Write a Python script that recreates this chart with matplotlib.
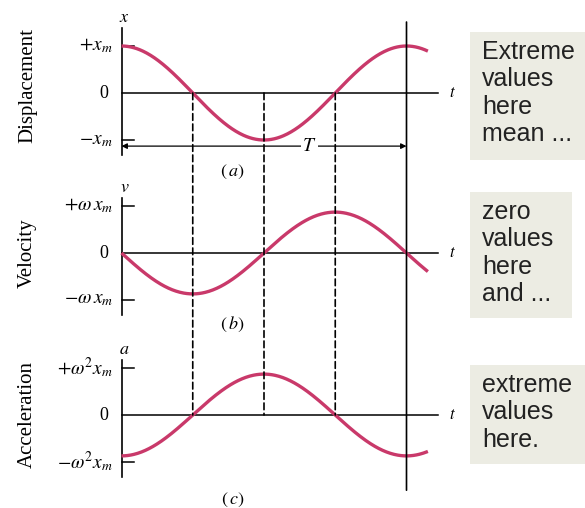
import numpy as np
import matplotlib.pyplot as plt
from matplotlib.patches import ConnectionPatch, Rectangle

plt.rcParams['mathtext.fontset'] = 'stix'
plt.rcParams['font.family'] = ['Liberation Serif', 'DejaVu Serif']

# one period T = 1; curves drawn a little past t = T
period = 1.0
t_end = 1.075
guide_times = [0.25, 0.5, 0.75]

panel_names = ['Displacement', 'Velocity', 'Acceleration']
axis_letters = ['$x$', '$v$', '$a$']
tick_top = [r'$+x_m$', r'$+\omega\, x_m$', r'$+\omega^2 x_m$']
tick_bottom = [r'$-x_m$', r'$-\omega\, x_m$', r'$-\omega^2 x_m$']
sub_labels = [r'$(\,a)$', r'$(\,b)$', r'$(\,c)$']
amplitudes = [1.0, 0.87, 0.87]
phases = [0.0, 0.25, 0.5]   # fraction of a period: cos, -sin, -cos

notes = ['Extreme\nvalues\nhere\nmean ...',
         'zero\nvalues\nhere\nand ...',
         'extreme\nvalues\nhere.']

W, H = 585, 508
fig = plt.figure(figsize=(W / 100, H / 100), dpi=100)
fig.patch.set_facecolor('white')

x0_px, T_px = 121.5, 285.0
unit_px = 47.0
zero_px = [93, 253, 415]
band = 80
xlim = (-x0_px / T_px, (W - x0_px) / T_px)
curve_color = '#c9396a'

axes = []
for i in range(3):
    y0 = zero_px[i]
    ax = fig.add_axes([0, 1 - (y0 + band) / H, 1, 2 * band / H])
    ax.set_xlim(*xlim)
    ax.set_ylim(-band / unit_px, band / unit_px)
    ax.axis('off')
    ax.patch.set_alpha(0)
    axes.append(ax)

    t = np.linspace(0, t_end, 400)
    y = amplitudes[i] * np.cos(2 * np.pi * (t / period + phases[i]))
    ax.plot(t, y, color=curve_color, lw=2.4, solid_capstyle='butt', zorder=3)

    # axes lines
    top = 1.38 if i == 0 else 1.17
    ax.plot([0, 0], [top, -1.32], color='black', lw=1.2)
    ax.plot([0, 1.11], [0, 0], color='black', lw=1.1)
    for v in (1, -1):
        ax.plot([0, 0.045], [v, v], color='black', lw=1.1)

    ax.text(-0.03, 1, tick_top[i], ha='right', va='center', fontsize=14)
    ax.text(-0.03, -1, tick_bottom[i], ha='right', va='center', fontsize=14)
    ax.text(-0.045, 0, '0', ha='right', va='center', fontsize=13)
    ax.text(0.01, top + 0.05, axis_letters[i], ha='center', va='bottom', fontsize=13)
    ax.text(1.16, 0, '$t$', ha='center', va='center', fontsize=12)
    ax.text(-0.33, 0 if i != 0 else 0.15, panel_names[i], rotation=90,
            ha='center', va='center', fontsize=15)

lab_y = [-1.68, -1.53, -1.81]
for ax, lab, ly in zip(axes, sub_labels, lab_y):
    ax.text(0.39, ly, lab, ha='center', va='center', fontsize=13)

# period arrow under the displacement curve
ax_a = axes[0]
ax_a.annotate('', xy=(1.0, -1.13), xytext=(0, -1.13),
              arrowprops=dict(arrowstyle='<|-|>', color='black', lw=0.9,
                              mutation_scale=8, shrinkA=0, shrinkB=0))
ax_a.text(0.66, -1.13, '$T$', ha='center', va='center', fontsize=14,
          bbox=dict(facecolor='white', edgecolor='none', pad=1))

# dashed guides from the top zero line to the bottom zero line
for tg in guide_times:
    con = ConnectionPatch(xyA=(tg, 0), coordsA=axes[0].transData,
                          xyB=(tg, 0), coordsB=axes[2].transData,
                          color='black', lw=1.2, linestyle=(0, (4, 2.2)))
    fig.add_artist(con)

con = ConnectionPatch(xyA=(period, 1.51), coordsA=axes[0].transData,
                      xyB=(period, -1.6), coordsB=axes[2].transData,
                      color='black', lw=1.2)
fig.add_artist(con)

# note boxes on the right
boxes = [(470, 32, 585, 160), (470, 192, 572, 318), (470, 365, 585, 464)]
text_top = [40, 200, 373]
for (l, t0, r, b), note, ty in zip(boxes, notes, text_top):
    fig.add_artist(Rectangle((l / W, 1 - b / H), (r - l) / W, (b - t0) / H,
                             transform=fig.transFigure, facecolor='#ecece3',
                             edgecolor='none'))
    fig.text(482 / W, 1 - ty / H, note, ha='left', va='top',
             fontsize=18, family=['Liberation Sans', 'DejaVu Sans'],
             color='#222222', linespacing=1.18)

fig.savefig('out.png', dpi=100)
